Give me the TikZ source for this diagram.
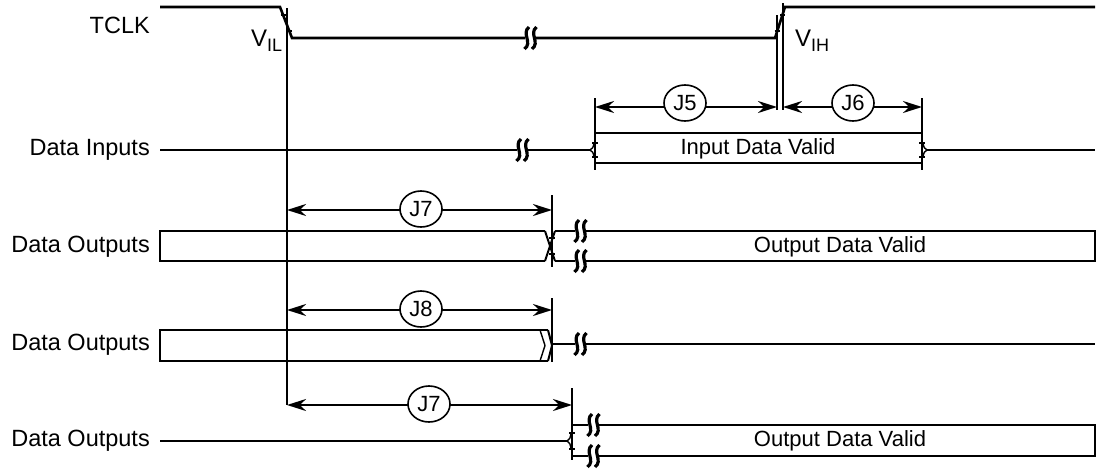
\documentclass[tikz,border=0pt]{standalone}
\usepackage{fontspec}
\setmainfont{Liberation Sans}
\usetikzlibrary{arrows.meta,shapes.geometric}
\newcommand\brkmark[3][11]{%
  \fill[white] (#2-5,#3-3) rectangle (#2+5,#3+3);
  \draw[line width=3.2pt] (#2-1,#3-#1) .. controls (#2-9,#3-#1*0.4) and (#2+3,#3+#1*0.4) .. (#2-5.5,#3+#1);
  \draw[line width=3.2pt] (#2+6.5,#3-#1) .. controls (#2-1.5,#3-#1*0.4) and (#2+10.5,#3+#1*0.4) .. (#2+2,#3+#1);
}
\begin{document}
\begin{tikzpicture}[x=1pt,y=-1pt,
  wave/.style={line width=2.6pt},
  bus/.style={line width=2pt},
  thin/.style={line width=1.4pt},
  ref/.style={line width=2.5pt},
  dim/.style={line width=2.2pt,{Stealth[length=19pt,width=12pt]}-{Stealth[length=19pt,width=12pt]}},
  lbl/.style={font=\fontsize{23.5}{25}\selectfont, anchor=east, inner sep=0},
  txt/.style={font=\fontsize{22}{24}\selectfont, inner sep=0},
  tag/.style={draw, ellipse, line width=1.6pt, fill=white, minimum width=42pt, minimum height=36pt, inner sep=0, font=\fontsize{22}{24}\selectfont},
  vlab/.style={font=\fontsize{24}{26}\selectfont, inner sep=0, anchor=base west},
]
\useasboundingbox (0,0) rectangle (1100,471);

% labels
\node[lbl] (ltclk) at (150,25) {TCLK};
\node[lbl] (ldin) at (150,150) {Data Inputs};
\node[lbl] (ldo1) at (150,247) {Data Outputs};
\node[lbl] (ldo2) at (150,345) {Data Outputs};
\node[lbl] (ldo3) at (150,441) {Data Outputs};

% TCLK
\draw[wave] (160,7) -- (280,7) -- (292,38) -- (775,38) -- (785,7) -- (1095,7);
\draw[thin] (280.5,15) -- (285.5,15) (286.5,31) -- (291.5,31);
\draw[thin] (774.5,31) -- (779.5,31) (780,15) -- (785,15);
\brkmark{530}{38}
\node[vlab] (vil) at (251,46) {V\raisebox{-0.45ex}{\fontsize{18}{18}\selectfont IL}};
\node[vlab] (vih) at (795,46) {V\raisebox{-0.45ex}{\fontsize{18}{18}\selectfont IH}};

% reference verticals
\coordinate (r0t) at (287,8);   \coordinate (r0b) at (287,405);
\coordinate (r1t) at (777,15);  \coordinate (r1b) at (777,110);
\coordinate (r2t) at (783,3);   \coordinate (r2b) at (783,110);
\coordinate (r3t) at (595,98);  \coordinate (r3b) at (595,170);
\coordinate (r4t) at (922,98);  \coordinate (r4b) at (922,170);
\coordinate (r5t) at (552,195); \coordinate (r5b) at (552,267);
\coordinate (r6t) at (552,298); \coordinate (r6b) at (552,362);
\coordinate (r7t) at (572,388); \coordinate (r7b) at (572,460);
\foreach \a in {r0,r1,r2,r3,r4,r5,r6,r7} \draw[ref] (\a t) -- (\a b);

% Data Inputs
\draw[wave] (160,150) -- (590,150);
\brkmark{522}{150}
\draw[thin] (590,150) .. controls (593,148) .. (594,143) (590,150) .. controls (593,152) .. (594,157);
\draw[thin] (592,143) -- (598,143) (592,157) -- (598,157);
\draw[bus] (595,133) -- (922,133) (595,163) -- (922,163);
\draw[thin] (927,150) .. controls (924,148) .. (923,143) (927,150) .. controls (924,152) .. (923,157);
\draw[thin] (919,143) -- (925,143) (919,157) -- (925,157);
\draw[wave] (927,150) -- (1095,150);
\node[txt] (idv) at (758,149) {Input Data Valid};

% dims J5 J6
\coordinate (j5a) at (595,107); \coordinate (j5b) at (777,107);
\coordinate (j6a) at (783,107); \coordinate (j6b) at (922,107);
\draw[dim] (j5a) -- (j5b);
\draw[dim] (j6a) -- (j6b);
\node[tag] (j5) at (685,103) {J5};
\node[tag] (j6) at (853,103) {J6};

% Row 1
\draw[bus] (545,231) -- (160,231) -- (160,261) -- (545,261);
\draw[bus] (545,231) -- (555,261) (545,261) -- (555,231);
\draw[bus] (555,231) -- (1095,231) -- (1095,261) -- (555,261);
\draw[thin] (549,238) -- (555,238) (549,254) -- (555,254);
\brkmark{580}{231}
\brkmark{580}{261}
\node[txt] (odv1) at (840,247) {Output Data Valid};
\coordinate (j7a) at (287,210); \coordinate (j7b) at (552,210);
\draw[dim] (j7a) -- (j7b);
\node[tag] (j7) at (421,209) {J7};

% Row 2
\draw[bus] (548,330) -- (160,330) -- (160,361) -- (548,361);
\draw[bus] (548,330) -- (552,345.5) -- (548,361);
\draw[thin] (540,330) -- (545,345.5) -- (540,361);
\draw[wave] (552,344) -- (1095,344);
\brkmark{580}{344}
\coordinate (j8a) at (287,310); \coordinate (j8b) at (552,310);
\draw[dim] (j8a) -- (j8b);
\node[tag] (j8) at (421,309) {J8};

% Row 3
\draw[wave] (160,441) -- (567,441);
\draw[thin] (567,441) .. controls (570,439) .. (571,433) (567,441) .. controls (570,443) .. (571,449);
\draw[thin] (569,433) -- (575,433) (569,449) -- (575,449);
\draw[bus] (572,425) -- (1095,425) -- (1095,456) -- (572,456);
\brkmark{593}{425}
\brkmark{593}{456}
\node[txt] (odv3) at (840,441) {Output Data Valid};
\coordinate (j9a) at (287,405); \coordinate (j9b) at (572,405);
\draw[dim] (j9a) -- (j9b);
\node[tag] (j9) at (429,404) {J7};
\end{tikzpicture}
\end{document}
